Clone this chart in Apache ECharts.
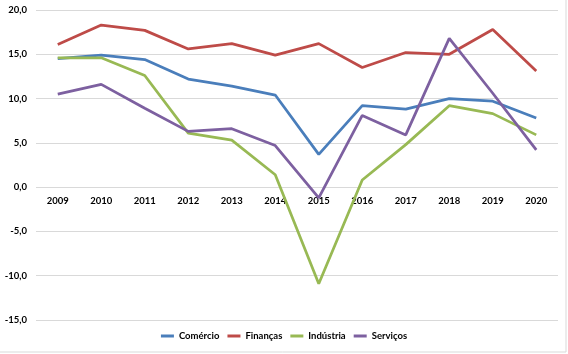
<!DOCTYPE html>
<html><head><meta charset="utf-8">
<script src="https://cdn.jsdelivr.net/npm/echarts@6/dist/echarts.min.js"></script>
<style>html,body{margin:0;padding:0;background:#fff}#c{width:568px;height:354px}</style>
</head><body><div id="c"></div>
<script>
const years = ['2009','2010','2011','2012','2013','2014','2015','2016','2017','2018','2019','2020'];
const comercio = [14.5, 14.9, 14.4, 12.2, 11.4, 10.4, 3.7, 9.2, 8.8, 10.0, 9.7, 7.8];
const financas = [16.1, 18.3, 17.7, 15.6, 16.2, 14.9, 16.2, 13.5, 15.2, 15.0, 17.8, 13.1];
const industria = [14.6, 14.6, 12.6, 6.1, 5.3, 1.4, -10.9, 0.8, 4.8, 9.2, 8.3, 5.9];
const servicos = [10.5, 11.6, 8.9, 6.3, 6.6, 4.7, -1.2, 8.1, 5.9, 16.8, 10.6, 4.2];
const names = ['Comércio','Finanças','Indústria','Serviços'];
const colors = ['#4a7ebb','#be4b48','#98b954','#7d60a0'];
const seriesData = [comercio, financas, industria, servicos];
const yMin = -15, yMax = 20;

const W = 568, H = 354, gTop = 10, gBottom = 34;
const gridH = H - gTop - gBottom;
const zeroOffset = -gridH * (0 - yMin) / (yMax - yMin);

const chart = echarts.init(document.getElementById('c'));
const font = 'Lato, "Open Sans", sans-serif';
chart.setOption({
  animation: false,
  color: colors,
  grid: {left: 36, right: 10, top: gTop, bottom: gBottom, containLabel: false},
  legend: {
    bottom: 8, left: 'center', icon: 'rect', itemWidth: 13, itemHeight: 3, itemGap: 8,
    textStyle: {fontFamily: font, fontWeight: 'bold', fontSize: 9.5, color: '#000'},
    data: names
  },
  xAxis: {
    type: 'category', data: years, boundaryGap: true, offset: zeroOffset,
    axisLine: {show: false, onZero: false},
    axisTick: {show: false},
    axisLabel: {fontFamily: font, fontWeight: 'bold', fontSize: 9.5, color: '#000', margin: 9}
  },
  yAxis: {
    type: 'value', min: yMin, max: yMax, interval: 5,
    axisLine: {show: false}, axisTick: {show: false},
    splitLine: {lineStyle: {color: '#d9d9d9', width: 1}},
    axisLabel: {fontFamily: font, fontWeight: 'bold', fontSize: 9.5, color: '#000', margin: 9,
      formatter: v => v.toFixed(1).replace('.', ',')}
  },
  series: seriesData.map((d, i) => ({
    name: names[i], type: 'line', data: d, symbol: 'none',
    lineStyle: {width: 2.75, color: colors[i]}, itemStyle: {color: colors[i]}
  })),
  graphic: [{type: 'rect', shape: {x: -1, y: -1, width: 567, height: 353},
    style: {fill: 'none', stroke: '#d9d9d9', lineWidth: 1}, silent: true}]
});
</script></body></html>
